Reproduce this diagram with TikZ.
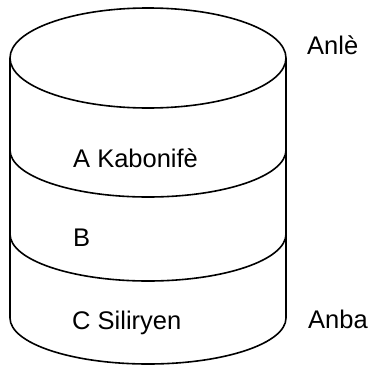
\documentclass[tikz,border=0pt]{standalone}
\usepackage{fontspec}
\setmainfont{Liberation Sans}
\usepackage{tikz}
\tikzset {
  % outline of the core
  wall/.style = {draw, line width=1.6pt},
  % layer names
  lbl/.style = {anchor=base west, inner sep=0pt, font=\fontsize{25.5}{30}\selectfont},
}

\begin{document}
\begin{tikzpicture}[x=1pt, y=1pt]
  \useasboundingbox (0,0) rectangle (372,368);

  % top and sides
  \draw [wall] (148,310) ellipse [x radius=138, y radius=50];
  \draw [wall] (10,310) -- (10,50) arc [start angle=180, end angle=360, x radius=138, y radius=46] -- (286,310);

  % layer boundaries
  \draw [wall] (10,218) arc [start angle=180, end angle=360, x radius=138, y radius=47];
  \draw [wall] (10,134) arc [start angle=180, end angle=360, x radius=138, y radius=47];

  \node [lbl] (a) at (73,201) {A Kabonifè};
  \node [lbl] (b) at (73,122) {B};
  \node [lbl] (c) at (72,39) {C Siliryen};
  \node [lbl] (top) at (307,314) {Anlè};
  \node [lbl] (bottom) at (308,40) {Anba};
\end{tikzpicture}
\end{document}
